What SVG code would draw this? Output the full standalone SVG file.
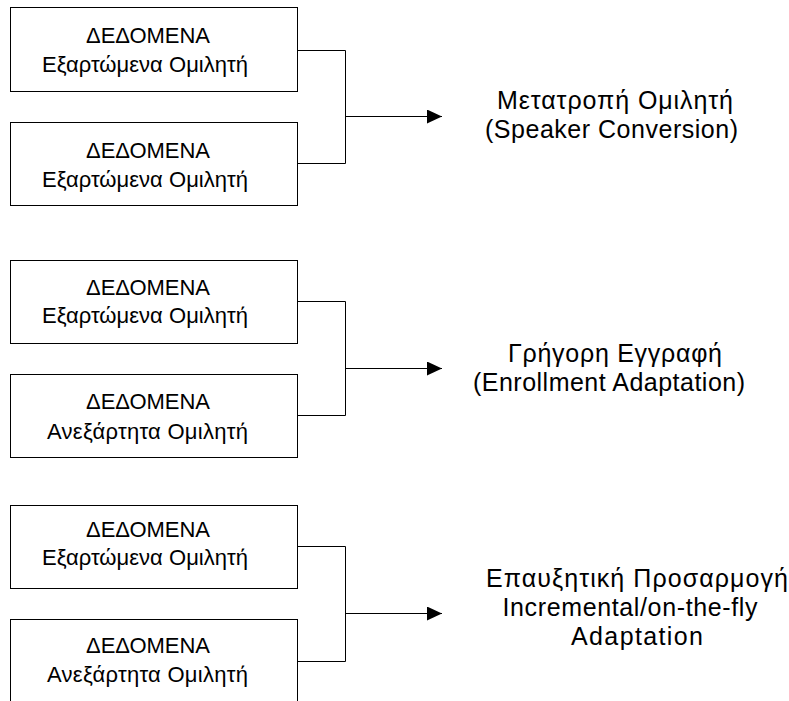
<svg xmlns="http://www.w3.org/2000/svg" width="789" height="701" viewBox="0 0 789 701">
<defs>
<style>
.box{fill:#fff;stroke:#000;stroke-width:1}
.t{font-family:"Liberation Sans",Arial,sans-serif;font-size:22px;fill:#000;text-anchor:middle}
.r{font-family:"Liberation Sans",Arial,sans-serif;font-size:25px;fill:#000;text-anchor:middle}
.c{fill:none;stroke:#000;stroke-width:1}
</style>
<marker id="ah" markerWidth="15" markerHeight="14" refX="15" refY="7" orient="auto" markerUnits="userSpaceOnUse">
<path d="M0,0 L15,7 L0,14 Z" fill="#000"/>
</marker>
</defs>
<rect width="789" height="701" fill="#fff"/>
<g id="connectors">
<path class="c" d="M297.5,50.5 H345.5 V163.5 H297.5"/>
<path class="c" d="M345.5,116.5 H442" marker-end="url(#ah)"/>
<path class="c" d="M297.5,301.5 H345.5 V415.5 H297.5"/>
<path class="c" d="M345.5,368.5 H442" marker-end="url(#ah)"/>
<path class="c" d="M297.5,546.5 H345.5 V661.5 H297.5"/>
<path class="c" d="M345.5,613.5 H442" marker-end="url(#ah)"/>
</g>
<g id="box1"><rect class="box" x="10.5" y="7.5" width="287" height="84"/>
<text class="t" x="148" y="43" textLength="124">ΔΕΔΟΜΕΝΑ</text>
<text class="t" x="145" y="72" textLength="206">Εξαρτώμενα Ομιλητή</text></g>
<g id="box2"><rect class="box" x="10.5" y="122.5" width="287" height="83"/>
<text class="t" x="148" y="158" textLength="124">ΔΕΔΟΜΕΝΑ</text>
<text class="t" x="145" y="187" textLength="206">Εξαρτώμενα Ομιλητή</text></g>
<g id="box3"><rect class="box" x="10.5" y="260.5" width="287" height="83"/>
<text class="t" x="148" y="295" textLength="124">ΔΕΔΟΜΕΝΑ</text>
<text class="t" x="145" y="323" textLength="206">Εξαρτώμενα Ομιλητή</text></g>
<g id="box4"><rect class="box" x="10.5" y="374.5" width="287" height="83"/>
<text class="t" x="148" y="409" textLength="124">ΔΕΔΟΜΕΝΑ</text>
<text class="t" x="147.5" y="439" textLength="201">Ανεξάρτητα Ομιλητή</text></g>
<g id="box5"><rect class="box" x="10.5" y="505.5" width="287" height="83"/>
<text class="t" x="148" y="537" textLength="124">ΔΕΔΟΜΕΝΑ</text>
<text class="t" x="145" y="565" textLength="206">Εξαρτώμενα Ομιλητή</text></g>
<g id="box6"><rect class="box" x="10.5" y="619.5" width="287" height="90"/>
<text class="t" x="148" y="653" textLength="124">ΔΕΔΟΜΕΝΑ</text>
<text class="t" x="147.5" y="682" textLength="201">Ανεξάρτητα Ομιλητή</text></g>
<g id="label1">
<text class="r" x="615" y="109" textLength="236">Μετατροπή Ομιλητή</text>
<text class="r" x="611.5" y="138" textLength="253">(Speaker Conversion)</text></g>
<g id="label2">
<text class="r" x="615" y="362" textLength="214">Γρήγορη Εγγραφή</text>
<text class="r" x="609" y="391" textLength="272">(Enrollment Adaptation)</text></g>
<g id="label3">
<text class="r" x="637" y="587" textLength="302">Επαυξητική Προσαρμογή</text>
<text class="r" x="630" y="616" textLength="255">Incremental/on-the-fly</text>
<text class="r" x="637" y="645" textLength="132">Adaptation</text></g>
</svg>
